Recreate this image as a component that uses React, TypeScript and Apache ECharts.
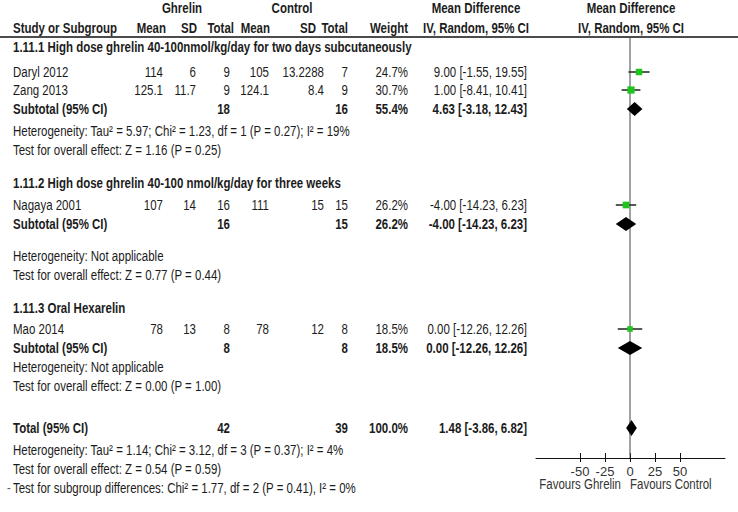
import React, { useEffect, useRef } from 'react';
import * as echarts from 'echarts';

// ---------- data ----------
const studyNames = ['Daryl 2012', 'Zang 2013', 'Nagaya 2001', 'Mao 2014'];
const studyGroup = [0, 0, 1, 2];
const ghrelinMean = [114, 125.1, 107, 78];
const ghrelinSD = [6, 11.7, 14, 13];
const ghrelinN = [9, 9, 16, 8];
const controlMean = [105, 124.1, 111, 78];
const controlSD = [13.2288, 8.4, 15, 12];
const controlN = [7, 9, 15, 8];
const studyWeight = [24.7, 30.7, 26.2, 18.5];
const studyMD = [9.0, 1.0, -4.0, 0.0];
const studyLow = [-1.55, -8.41, -14.23, -12.26];
const studyHigh = [19.55, 10.41, 6.23, 12.26];

const groupTitles = [
  '1.11.1 High dose ghrelin 40-100nmol/kg/day for two days subcutaneously',
  '1.11.2 High dose ghrelin 40-100 nmol/kg/day for three weeks',
  '1.11.3 Oral Hexarelin',
];
const subGhrelinN = [18, 16, 8];
const subControlN = [16, 15, 8];
const subWeight = [55.4, 26.2, 18.5];
const subMD = [4.63, -4.0, 0.0];
const subLow = [-3.18, -14.23, -12.26];
const subHigh = [12.43, 6.23, 12.26];
const groupHet = [
  'Heterogeneity: Tau² = 5.97; Chi² = 1.23, df = 1 (P = 0.27); I² = 19%',
  'Heterogeneity: Not applicable',
  'Heterogeneity: Not applicable',
];
const groupEffect = [
  'Test for overall effect: Z = 1.16 (P = 0.25)',
  'Test for overall effect: Z = 0.77 (P = 0.44)',
  'Test for overall effect: Z = 0.00 (P = 1.00)',
];

const totalGhrelinN = 42;
const totalControlN = 39;
const totalWeight = 100.0;
const totalMD = 1.48;
const totalLow = -3.86;
const totalHigh = 6.82;
const totalHet = 'Heterogeneity: Tau² = 1.14; Chi² = 3.12, df = 3 (P = 0.37); I² = 4%';
const totalEffect = 'Test for overall effect: Z = 0.54 (P = 0.59)';
const subgroupDiff = 'Test for subgroup differences: Chi² = 1.77, df = 2 (P = 0.41), I² = 0%';

const tickValues = [-50, -25, 0, 25, 50];
const favoursLabels = ['Favours Ghrelin', 'Favours Control'];
const headerGroups = ['Ghrelin', 'Control', 'Mean Difference', 'Mean Difference'];
const headerCols = ['Study or Subgroup', 'Mean', 'SD', 'Total', 'Mean', 'SD', 'Total', 'Weight', 'IV, Random, 95% CI', 'IV, Random, 95% CI'];

// ---------- layout ----------
const W = 738;
const H = 512;
const FONT = '"Liberation Sans", Arial, sans-serif';
const FS = 14;
const SX = 0.82;
const TXT = '#1c1c1c';
const LINE_Y = 37;
const GRID_LEFT = 536;
const GRID_RIGHT = 725;
const AXIS_Y = 458;
const XMIN = -94;
const XMAX = 95;
const GRID_H = AXIS_Y - LINE_Y;

// column right edges
const COL = { gMean: 163, gSD: 196, gN: 230, cMean: 269, cSD: 324, cN: 348, w: 408, ci: 527 };
const NAME_X = 13;
// vertical spacing per group (layout only)
const TITLE_GAP = [25, 22, 21];
const HET_GAP = [22, 32, 19];
const STUDY_GAP = 18;
const SUB_GAP = 19;
const EFFECT_GAP = 19;
const GROUP_GAP = 33;
const TOTAL_GAP = 42;

const fmtCI = (m: number, l: number, h: number) => `${m.toFixed(2)} [${l.toFixed(2)}, ${h.toFixed(2)}]`;
const fmtW = (w: number) => `${w.toFixed(1)}%`;

type Row = { kind: string; y: number; idx: number };

function buildLayout(): Row[] {
  const rows: Row[] = [];
  let y = LINE_Y + 10;
  for (let g = 0; g < groupTitles.length; g++) {
    if (g > 0) y += GROUP_GAP;
    rows.push({ kind: 'title', y, idx: g });
    let first = true;
    studyNames.forEach((_, i) => {
      if (studyGroup[i] !== g) return;
      y += first ? TITLE_GAP[g] : STUDY_GAP;
      first = false;
      rows.push({ kind: 'study', y, idx: i });
    });
    y += SUB_GAP;
    rows.push({ kind: 'subtotal', y, idx: g });
    y += HET_GAP[g];
    rows.push({ kind: 'het', y, idx: g });
    y += EFFECT_GAP;
    rows.push({ kind: 'effect', y, idx: g });
  }
  y += TOTAL_GAP;
  rows.push({ kind: 'total', y, idx: 0 });
  y += 22;
  rows.push({ kind: 'totalHet', y, idx: 0 });
  y += 19;
  rows.push({ kind: 'totalEffect', y, idx: 0 });
  y += 19;
  rows.push({ kind: 'subgroup', y, idx: 0 });
  return rows;
}

function txt(text: string, x: number, y: number, align: string, bold = false, color = TXT) {
  return {
    type: 'text',
    x,
    y,
    scaleX: SX,
    silent: true,
    style: {
      text,
      fill: color,
      font: `${bold ? 'bold ' : ''}${FS}px ${FONT}`,
      textAlign: align,
      textVerticalAlign: 'middle',
    },
  };
}

export default function App() {
  const ref = useRef<HTMLDivElement>(null);
  useEffect(() => {
    if (!ref.current) return;
    const chart = echarts.init(ref.current, null, { renderer: 'svg', width: W, height: H });
    const rows = buildLayout();
    const g: any[] = [];

    // headers
    g.push(txt(headerGroups[0], 182, 8, 'center', true));
    g.push(txt(headerGroups[1], 292, 8, 'center', true));
    g.push(txt(headerGroups[2], 476, 8, 'center', true));
    g.push(txt(headerGroups[3], 631, 8, 'center', true));
    const hy = 28;
    g.push(txt(headerCols[0], NAME_X, hy, 'left', true));
    g.push(txt(headerCols[1], 166, hy, 'right', true));
    g.push(txt(headerCols[2], 197, hy, 'right', true));
    g.push(txt(headerCols[3], 234, hy, 'right', true));
    g.push(txt(headerCols[4], 270, hy, 'right', true));
    g.push(txt(headerCols[5], 316, hy, 'right', true));
    g.push(txt(headerCols[6], 348, hy, 'right', true));
    g.push(txt(headerCols[7], COL.w, hy, 'right', true));
    g.push(txt(headerCols[8], 476, hy, 'center', true));
    g.push(txt(headerCols[9], 631, hy, 'center', true));
    g.push({
      type: 'line',
      silent: true,
      shape: { x1: 0, y1: LINE_Y, x2: W, y2: LINE_Y },
      style: { stroke: '#111', lineWidth: 1.5 },
    });

    const studyData: any[] = [];
    const diamondData: any[] = [];

    rows.forEach((r) => {
      const y = r.y;
      if (r.kind === 'title') {
        g.push(txt(groupTitles[r.idx], NAME_X, y, 'left', true));
      } else if (r.kind === 'study') {
        const i = r.idx;
        g.push(txt(studyNames[i], NAME_X, y, 'left'));
        g.push(txt(String(ghrelinMean[i]), COL.gMean, y, 'right'));
        g.push(txt(String(ghrelinSD[i]), COL.gSD, y, 'right'));
        g.push(txt(String(ghrelinN[i]), COL.gN, y, 'right'));
        g.push(txt(String(controlMean[i]), COL.cMean, y, 'right'));
        g.push(txt(String(controlSD[i]), COL.cSD, y, 'right'));
        g.push(txt(String(controlN[i]), COL.cN, y, 'right'));
        g.push(txt(fmtW(studyWeight[i]), COL.w, y, 'right'));
        g.push(txt(fmtCI(studyMD[i], studyLow[i], studyHigh[i]), COL.ci, y, 'right'));
        studyData.push([studyMD[i], studyLow[i], studyHigh[i], y - LINE_Y, studyWeight[i]]);
      } else if (r.kind === 'subtotal') {
        const k = r.idx;
        g.push(txt('Subtotal (95% CI)', NAME_X, y, 'left', true));
        g.push(txt(String(subGhrelinN[k]), COL.gN, y, 'right', true));
        g.push(txt(String(subControlN[k]), COL.cN, y, 'right', true));
        g.push(txt(fmtW(subWeight[k]), COL.w, y, 'right', true));
        g.push(txt(fmtCI(subMD[k], subLow[k], subHigh[k]), COL.ci, y, 'right', true));
        diamondData.push([subMD[k], subLow[k], subHigh[k], y - LINE_Y, 7]);
      } else if (r.kind === 'het') {
        g.push(txt(groupHet[r.idx], NAME_X, y, 'left'));
      } else if (r.kind === 'effect') {
        g.push(txt(groupEffect[r.idx], NAME_X, y, 'left'));
      } else if (r.kind === 'total') {
        g.push(txt('Total (95% CI)', NAME_X, y, 'left', true));
        g.push(txt(String(totalGhrelinN), COL.gN, y, 'right', true));
        g.push(txt(String(totalControlN), COL.cN, y, 'right', true));
        g.push(txt(fmtW(totalWeight), COL.w, y, 'right', true));
        g.push(txt(fmtCI(totalMD, totalLow, totalHigh), COL.ci, y, 'right', true));
        diamondData.push([totalMD, totalLow, totalHigh, y - LINE_Y, 8]);
      } else if (r.kind === 'totalHet') {
        g.push(txt(totalHet, NAME_X, y, 'left'));
      } else if (r.kind === 'totalEffect') {
        g.push(txt(totalEffect, NAME_X, y, 'left'));
      } else if (r.kind === 'subgroup') {
        g.push(txt(subgroupDiff, NAME_X, y, 'left'));
        g.push(txt('-', 7, y, 'left', false, '#666'));
      }
    });

    const zeroX = GRID_LEFT + ((0 - XMIN) / (XMAX - XMIN)) * (GRID_RIGHT - GRID_LEFT);
    g.push(txt(favoursLabels[0], zeroX - 9, 484, 'right', false, '#333'));
    g.push(txt(favoursLabels[1], zeroX, 484, 'left', false, '#333'));

    const option: any = {
      animation: false,
      backgroundColor: '#fff',
      grid: { left: GRID_LEFT, right: W - GRID_RIGHT, top: LINE_Y, height: GRID_H, containLabel: false },
      xAxis: [
        {
          type: 'value',
          min: XMIN,
          max: XMAX,
          position: 'bottom',
          axisLine: { show: true, onZero: false, lineStyle: { color: '#111', width: 1 } },
          axisTick: { show: true, inside: true, length: 5, customValues: tickValues, lineStyle: { color: '#111' } },
          axisLabel: { customValues: tickValues, margin: 7, fontFamily: FONT, fontSize: 13, color: '#333' },
          splitLine: { show: false },
        },
        {
          type: 'value',
          min: XMIN,
          max: XMAX,
          position: 'bottom',
          axisLine: { show: false, onZero: false },
          axisTick: { show: true, inside: false, length: 4, customValues: tickValues, lineStyle: { color: '#111' } },
          axisLabel: { show: false },
          splitLine: { show: false },
        },
      ],
      yAxis: { type: 'value', inverse: true, min: 0, max: GRID_H, show: false, splitLine: { show: false } },
      graphic: g,
      series: [
        {
          type: 'line',
          silent: true,
          symbol: 'none',
          data: [[0, 0], [0, GRID_H]],
          lineStyle: { color: '#444', width: 1 },
          z: 1,
        },
        {
          type: 'custom',
          silent: true,
          data: studyData,
          encode: { x: [0, 1, 2], y: 3 },
          z: 3,
          renderItem: (params: any, api: any) => {
            const m = api.value(0);
            const lo = api.value(1);
            const hi = api.value(2);
            const yv = api.value(3);
            const w = api.value(4);
            const pm = api.coord([m, yv]);
            const pl = api.coord([lo, yv]);
            const ph = api.coord([hi, yv]);
            const s = 1.3 * Math.sqrt(w);
            return {
              type: 'group',
              children: [
                { type: 'line', shape: { x1: pl[0], y1: pl[1], x2: ph[0], y2: ph[1] }, style: { stroke: '#222', lineWidth: 1.5 } },
                { type: 'rect', shape: { x: pm[0] - s / 2, y: pm[1] - s / 2, width: s, height: s }, style: { fill: '#1cc41c' } },
              ],
            };
          },
        },
        {
          type: 'custom',
          silent: true,
          data: diamondData,
          encode: { x: [0, 1, 2], y: 3 },
          z: 3,
          renderItem: (params: any, api: any) => {
            const m = api.value(0);
            const lo = api.value(1);
            const hi = api.value(2);
            const yv = api.value(3);
            const h = api.value(4);
            const pm = api.coord([m, yv]);
            const pl = api.coord([lo, yv]);
            const ph = api.coord([hi, yv]);
            return {
              type: 'polygon',
              shape: { points: [[pl[0], pl[1]], [pm[0], pm[1] - h], [ph[0], ph[1]], [pm[0], pm[1] + h]] },
              style: { fill: '#000' },
            };
          },
        },
      ],
    };
    chart.setOption(option);
    return () => chart.dispose();
  }, []);
  return <div ref={ref} style={{ position: 'fixed', left: 0, top: 0, width: W, height: H, background: '#fff' }} />;
}
